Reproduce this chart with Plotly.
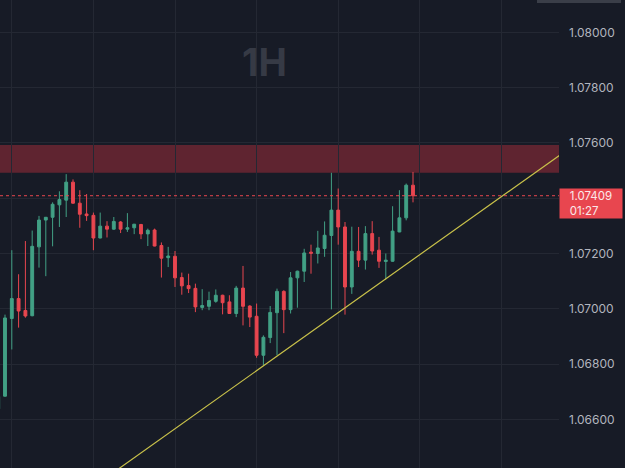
import plotly.graph_objects as go

# ---- data (hourly candles, index-based x) ----
idx = list(range(-1, 61))
opens = [1.06638, 1.06684, 1.06965, 1.07037, 1.06994, 1.06975, 1.07224, 1.07321, 1.07331, 1.07376,
         1.07393, 1.07458, 1.07382, 1.07343, 1.07338, 1.07256, 1.07299, 1.07288, 1.07314, 1.07288,
         1.07293, 1.07305, 1.07271, 1.07285, 1.07229, 1.07185, 1.07190, 1.07113, 1.07084, 1.07074,
         1.07005, 1.07009, 1.07027, 1.07049, 1.07025, 1.06983, 1.07075, 1.07010, 1.06973, 1.06832,
         1.06896, 1.06986, 1.07063, 1.06997, 1.07112, 1.07136, 1.07205, 1.07200, 1.07218, 1.07265,
         1.07357, 1.07296, 1.07079, 1.07208, 1.07176, 1.07272, 1.07212, 1.07171, 1.07172, 1.07278,
         1.07329, 1.07447]
highs = [1.06687, 1.06979, 1.07212, 1.07125, 1.07245, 1.07283, 1.07336, 1.07332, 1.07385, 1.07425,
         1.07487, 1.07468, 1.07429, 1.07415, 1.07348, 1.07348, 1.07317, 1.07332, 1.07317, 1.07346,
         1.07307, 1.07307, 1.07290, 1.07290, 1.07240, 1.07224, 1.07209, 1.07131, 1.07127, 1.07091,
         1.07071, 1.07062, 1.07070, 1.07051, 1.07049, 1.07083, 1.07155, 1.07013, 1.07019, 1.06904,
         1.07010, 1.07073, 1.07067, 1.07133, 1.07138, 1.07217, 1.07232, 1.07282, 1.07316, 1.07492,
         1.07435, 1.07314, 1.07297, 1.07296, 1.07299, 1.07317, 1.07260, 1.07200, 1.07371, 1.07429,
         1.07453, 1.07495]
lows = [1.06633, 1.06683, 1.06853, 1.06932, 1.06968, 1.06973, 1.07149, 1.07118, 1.07226, 1.07296,
        1.07332, 1.07380, 1.07293, 1.07318, 1.07212, 1.07255, 1.07258, 1.07286, 1.07274, 1.07278,
        1.07270, 1.07252, 1.07227, 1.07226, 1.07113, 1.07151, 1.07079, 1.07051, 1.07057, 1.06988,
        1.06995, 1.06995, 1.07022, 1.06980, 1.06982, 1.06970, 1.06940, 1.06934, 1.06823, 1.06795,
        1.06876, 1.06832, 1.06912, 1.06983, 1.07004, 1.07097, 1.07127, 1.07164, 1.07188, 1.06998,
        1.07232, 1.06979, 1.07054, 1.07151, 1.07142, 1.07196, 1.07148, 1.07106, 1.07170, 1.07277,
        1.07320, 1.07385]
closes = [1.06683, 1.06967, 1.07037, 1.06992, 1.06974, 1.07226, 1.07321, 1.07331, 1.07378, 1.07395,
          1.07458, 1.07382, 1.07342, 1.07337, 1.07256, 1.07299, 1.07288, 1.07316, 1.07288, 1.07293,
          1.07306, 1.07271, 1.07284, 1.07227, 1.07183, 1.07191, 1.07112, 1.07083, 1.07073, 1.07007,
          1.07012, 1.07030, 1.07049, 1.07022, 1.06983, 1.07075, 1.07009, 1.06970, 1.06832, 1.06897,
          1.06987, 1.07063, 1.06997, 1.07112, 1.07136, 1.07202, 1.07201, 1.07220, 1.07266, 1.07357,
          1.07296, 1.07079, 1.07208, 1.07176, 1.07272, 1.07209, 1.07172, 1.07176, 1.07281, 1.07329,
          1.07447, 1.07409]

current_price = 1.07409
countdown = "01:27"
zone_low, zone_high = 1.07492, 1.07592
trend_x = [10.0, 90.0]
trend_y = [1.06304, 1.07703]
y_ticks = [1.066, 1.068, 1.070, 1.072, 1.074, 1.076, 1.078, 1.080]
# the 1.07400 label is covered by the live price tag
y_tick_labels = ["1.06600", "1.06800", "1.07000", "1.07200", "", "1.07600", "1.07800", "1.08000"]
x_grid = [1, 13, 25, 37, 49, 61, 73]
x_range = [-0.735, 81.47]
y_range = [1.064243, 1.081168]
timeframe = "1H"

BG = "#171b26"
GRID = "#242833"
UP = "#42a085"
DOWN = "#e8464f"
FONT = "Inter"

fig = go.Figure()
fig.add_trace(go.Candlestick(
    x=idx, open=opens, high=highs, low=lows, close=closes,
    increasing=dict(line=dict(color=UP, width=1), fillcolor=UP),
    decreasing=dict(line=dict(color=DOWN, width=1), fillcolor=DOWN),
    whiskerwidth=0, showlegend=False, hoverinfo="skip",
))
fig.add_trace(go.Scatter(
    x=trend_x, y=trend_y, mode="lines",
    line=dict(color="#c9c24a", width=1.2), showlegend=False, hoverinfo="skip",
))

# resistance zone
fig.add_shape(type="rect", xref="paper", x0=0, x1=1, yref="y", y0=zone_low, y1=zone_high,
              fillcolor="rgba(242,54,69,0.33)", line=dict(width=0), layer="between")
# current price line
fig.add_shape(type="line", xref="paper", x0=0, x1=1, yref="y", y0=current_price, y1=current_price,
              line=dict(color=DOWN, width=1, dash="dot"))
# top-right partial widget
fig.add_shape(type="rect", xref="paper", yref="paper", x0=0.9606, x1=1.111, y0=0.9936, y1=1.02,
              fillcolor="#3a3e48", line=dict(width=0))

fig.add_annotation(xref="paper", yref="paper", x=0.473, y=0.868, xanchor="center", yanchor="middle",
                   text="<b>" + timeframe + "</b>",
                   showarrow=False, font=dict(family=FONT, size=38, color="#363a45"))

# price tag (single annotation with background)
pad = "&nbsp;&nbsp;&nbsp;"
fig.add_annotation(xref="paper", yref="y", x=1.0, y=current_price, xanchor="left", yanchor="top",
                   yshift=8, text=f"{pad}{current_price:.5f}<br>{pad}{countdown}", align="left",
                   showarrow=False, bgcolor=DOWN, borderpad=0, width=62,
                   font=dict(family=FONT, size=11.5, color="#fbe9ea"))

fig.update_layout(
    width=625, height=468,
    margin=dict(l=0, r=66, t=0, b=0),
    paper_bgcolor=BG, plot_bgcolor=BG,
    xaxis=dict(range=x_range, tickvals=x_grid, showticklabels=False, showgrid=True,
               gridcolor=GRID, gridwidth=1, zeroline=False, showline=False,
               rangeslider=dict(visible=False), fixedrange=True),
    yaxis=dict(range=y_range, side="right", tickvals=y_ticks, ticktext=y_tick_labels,
               showgrid=True, gridcolor=GRID, gridwidth=1, zeroline=False, showline=False,
               ticks="", ticklabelstandoff=9,
               tickfont=dict(family=FONT, size=12, color="#b2b5be")),
    boxgap=0.4,
)

fig.write_html("out.html")
